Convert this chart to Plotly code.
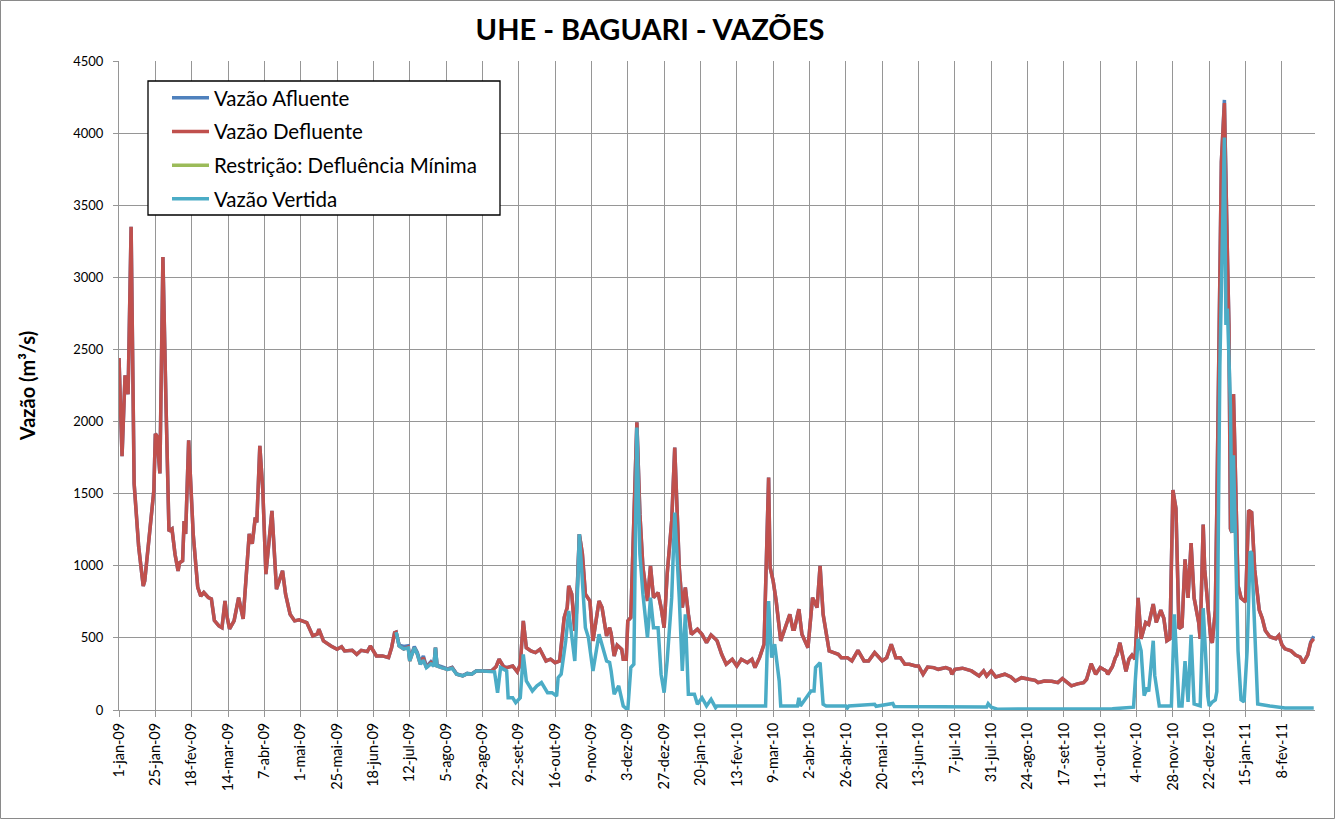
import datetime as dt
import plotly.graph_objects as go

# ---------------- data ----------------
inicio = "2009-01-01"

# days after 1-jan-09 for Vazão Afluente / Vazão Defluente
dias_q = [0, 2, 4, 6, 8, 10, 13, 16, 17, 21, 23, 24, 25, 27, 29, 31, 33, 35, 37, 39,
          40, 42, 43, 44, 46, 49, 52, 54, 56, 59, 61, 63, 65, 66, 68, 70, 71, 73, 76, 79,
          82, 86, 88, 90, 91, 93, 95, 97, 101, 104, 108, 110, 113, 116, 119, 124, 128, 131, 132, 135,
          140, 144, 147, 149, 154, 157, 160, 164, 166, 170, 174, 178, 180, 182, 183, 185, 188, 191, 192, 195,
          197, 199, 201, 203, 206, 208, 209, 210, 213, 217, 220, 223, 227, 230, 233, 236, 240, 246, 249, 251,
          254, 256, 260, 263, 265, 267, 269, 272, 275, 278, 282, 285, 288, 291, 294, 296, 297, 299, 301, 302,
          304, 306, 308, 311, 313, 316, 317, 319, 322, 324, 325, 327, 329, 332, 333, 335, 336, 338, 339, 342,
          344, 346, 349, 351, 353, 356, 358, 360, 362, 365, 367, 370, 372, 374, 376, 378, 382, 385, 388, 391,
          394, 395, 398, 401, 405, 408, 411, 415, 418, 420, 423, 426, 429, 430, 432, 434, 437, 440, 443, 445,
          446, 449, 451, 455, 458, 461, 463, 465, 467, 469, 472, 475, 477, 481, 484, 488, 492, 495, 499, 504,
          507, 510, 513, 516, 519, 522, 526, 528, 531, 534, 538, 541, 546, 549, 550, 552, 557, 560, 563, 568,
          571, 573, 576, 579, 582, 585, 589, 592, 593, 596, 601, 605, 607, 611, 616, 620, 623, 625, 629, 633,
          637, 639, 642, 645, 648, 650, 652, 653, 656, 658, 659, 661, 662, 665, 667, 669, 671, 673, 675, 678,
          680, 683, 685, 688, 690, 692, 694, 696, 698, 700, 702, 704, 706, 708, 710, 713, 714, 716, 717, 720,
          721, 722, 724, 725, 726, 728, 730, 731, 732, 733, 734, 735, 736, 737, 739, 741, 744, 746, 748, 750,
          753, 755, 757, 760, 764, 766, 768, 770, 774, 777, 780, 782, 785, 787, 789]

vazao_defluente = [2440, 1760, 2320, 2190, 3350, 1570, 1130, 860, 895, 1310, 1520, 1915, 1900, 1640, 3140, 2140, 1240, 1255, 1080, 965,
                   1020, 1035, 1310, 1220, 1870, 1220, 850, 790, 815, 780, 770, 620, 597, 583, 571, 756, 666, 562, 618, 779,
                   632, 1221, 1152, 1335, 1300, 1832, 1520, 942, 1381, 838, 965, 803, 664, 618, 625, 606, 514, 527, 560, 479,
                   444, 421, 439, 409, 414, 386, 414, 405, 444, 375, 375, 363, 432, 536, 540, 444, 423, 437, 340, 432,
                   389, 317, 363, 294, 328, 305, 432, 305, 294, 282, 294, 248, 236, 252, 248, 271, 271, 271, 300, 352,
                   300, 294, 305, 265, 317, 618, 432, 409, 398, 421, 340, 352, 328, 340, 641, 710, 860, 803, 548, 664,
                   1219, 1083, 803, 756, 479, 664, 756, 710, 514, 571, 530, 375, 450, 421, 352, 352, 618, 641, 988, 1994,
                   1358, 988, 756, 999, 779, 814, 710, 571, 942, 1311, 1820, 988, 710, 849, 664, 525, 560, 525, 467, 520,
                   491, 479, 386, 317, 352, 305, 352, 328, 352, 294, 363, 456, 1612, 988, 895, 756, 479, 571, 664, 560,
                   560, 699, 525, 432, 779, 710, 999, 664, 525, 409, 398, 386, 363, 363, 340, 414, 340, 340, 398, 340,
                   363, 456, 363, 363, 317, 317, 305, 305, 248, 298, 294, 282, 294, 282, 248, 282, 290, 282, 271, 236,
                   271, 236, 271, 229, 236, 248, 229, 201, 206, 224, 213, 206, 190, 201, 199, 190, 218, 201, 167, 181,
                   190, 213, 321, 248, 294, 282, 271, 248, 300, 363, 381, 466, 410, 268, 353, 381, 353, 777, 494, 607,
                   593, 734, 607, 692, 636, 480, 494, 1525, 1398, 565, 579, 1045, 777, 1158, 777, 607, 494, 1285, 975, 579,
                   494, 466, 692, 1400, 2387, 3800, 4209, 3517, 3150, 2670, 1257, 1229, 2190, 1766, 862, 777, 749, 1384, 1370, 975,
                   692, 636, 551, 508, 494, 517, 452, 424, 410, 381, 367, 325, 381, 466, 494]

vazao_afluente = [2440, 1760, 2320, 2190, 3350, 1570, 1130, 860, 895, 1310, 1520, 1915, 1900, 1640, 3140, 2140, 1240, 1255, 1080, 965,
                  1020, 1035, 1310, 1220, 1870, 1220, 850, 790, 815, 780, 770, 620, 597, 583, 571, 756, 666, 562, 618, 779,
                  632, 1221, 1152, 1335, 1300, 1832, 1520, 942, 1381, 838, 965, 803, 664, 618, 625, 606, 514, 527, 560, 479,
                  444, 421, 439, 409, 414, 386, 414, 405, 444, 375, 375, 363, 432, 536, 540, 450, 440, 445, 350, 440,
                  400, 330, 375, 300, 335, 310, 432, 310, 300, 285, 296, 250, 238, 254, 250, 272, 272, 272, 300, 352,
                  300, 294, 305, 265, 317, 618, 432, 409, 398, 421, 340, 352, 328, 340, 641, 710, 860, 803, 548, 664,
                  1219, 1083, 803, 756, 479, 664, 756, 710, 514, 571, 530, 375, 450, 421, 352, 352, 618, 641, 988, 1994,
                  1358, 988, 756, 999, 779, 814, 710, 571, 942, 1311, 1820, 988, 710, 849, 664, 525, 560, 525, 467, 520,
                  491, 479, 386, 317, 352, 305, 352, 328, 352, 294, 363, 456, 1612, 988, 895, 756, 479, 571, 664, 560,
                  560, 699, 525, 432, 779, 710, 999, 664, 525, 409, 398, 386, 363, 363, 340, 414, 340, 340, 398, 340,
                  363, 456, 363, 363, 317, 317, 305, 305, 248, 298, 294, 282, 294, 282, 248, 282, 290, 282, 271, 236,
                  271, 236, 271, 229, 236, 248, 229, 201, 206, 224, 213, 206, 190, 201, 199, 190, 218, 201, 167, 181,
                  190, 213, 321, 248, 294, 282, 271, 248, 300, 363, 381, 466, 410, 268, 353, 381, 353, 777, 494, 607,
                  593, 734, 607, 692, 636, 480, 494, 1525, 1398, 565, 579, 1045, 777, 1158, 777, 607, 494, 1285, 975, 579,
                  494, 466, 692, 1400, 2387, 3800, 4230, 3517, 3150, 2670, 1257, 1229, 2190, 1766, 862, 777, 749, 1384, 1370, 975,
                  692, 636, 551, 508, 494, 517, 452, 424, 410, 381, 367, 325, 381, 470, 512]

# the minimum-outflow restriction has no visible values in the chart (legend entry only)
dias_restricao = [0, 789]
restricao_defluencia_minima = [None, None]

# days after 1-jan-09 for Vazão Vertida
dias_v = [183, 185, 188, 191, 192, 195, 197, 199, 201, 203, 206, 208, 209, 210, 213, 217, 220, 223, 227, 230,
          233, 236, 240, 246, 248, 250, 252, 256, 257, 260, 262, 265, 267, 269, 273, 276, 279, 283, 286, 289,
          290, 292, 295, 297, 299, 301, 302, 304, 306, 308, 310, 313, 317, 319, 322, 324, 325, 327, 329, 330,
          333, 336, 338, 340, 342, 344, 346, 349, 351, 353, 356, 358, 360, 362, 365, 367, 370, 372, 374, 376,
          380, 382, 385, 388, 391, 392, 394, 395, 410, 427, 429, 431, 433, 436, 437, 448, 449, 450, 457, 459,
          460, 463, 465, 467, 480, 481, 482, 499, 500, 511, 512, 540, 573, 574, 576, 580, 620, 656, 670, 673,
          675, 677, 679, 680, 683, 684, 687, 695, 697, 700, 702, 704, 706, 708, 710, 714, 716, 719, 720, 722,
          724, 725, 727, 730, 731, 732, 734, 735, 736, 739, 741, 743, 745, 747, 748, 750, 752, 760, 770, 789]

vazao_vertida = [540, 444, 423, 430, 340, 432, 389, 317, 345, 294, 320, 305, 432, 305, 294, 282, 290, 248, 236, 252,
                 248, 271, 271, 271, 265, 120, 294, 271, 85, 85, 51, 85, 386, 201, 132, 167, 190, 120, 120, 97,
                 224, 248, 479, 687, 525, 340, 571, 1219, 895, 571, 502, 271, 525, 456, 340, 330, 271, 109, 155, 167,
                 28, 0, 294, 317, 1959, 1080, 803, 502, 779, 571, 571, 248, 120, 340, 779, 1369, 779, 271, 664, 109,
                 109, 40, 85, 28, 74, 51, 16, 28, 26, 28, 756, 363, 456, 201, 28, 28, 85, 28, 132, 132,
                 294, 328, 40, 28, 28, 14, 28, 40, 26, 45, 25, 24, 21, 44, 20, 6, 5, 8, 20, 494,
                 410, 99, 155, 127, 480, 240, 28, 28, 664, 28, 28, 339, 56, 522, 42, 28, 706, 99, 28, 56,
                 70, 127, 2387, 3969, 2670, 2783, 2105, 1229, 1766, 410, 71, 56, 410, 1100, 1088, 607, 42, 28, 14, 14]

tick_labels = ["1-jan-09", "25-jan-09", "18-fev-09", "14-mar-09", "7-abr-09", "1-mai-09", "25-mai-09",
               "18-jun-09", "12-jul-09", "5-ago-09", "29-ago-09", "22-set-09", "16-out-09", "9-nov-09",
               "3-dez-09", "27-dez-09", "20-jan-10", "13-fev-10", "9-mar-10", "2-abr-10", "26-abr-10",
               "20-mai-10", "13-jun-10", "7-jul-10", "31-jul-10", "24-ago-10", "17-set-10", "11-out-10",
               "4-nov-10", "28-nov-10", "22-dez-10", "15-jan-11", "8-fev-11"]

y_ticks = [0, 500, 1000, 1500, 2000, 2500, 3000, 3500, 4000, 4500]

# ---------------- helpers ----------------
meses = {"jan": 1, "fev": 2, "mar": 3, "abr": 4, "mai": 5, "jun": 6,
         "jul": 7, "ago": 8, "set": 9, "out": 10, "nov": 11, "dez": 12}
base = dt.date.fromisoformat(inicio)


def to_dates(dias):
    return [base + dt.timedelta(days=d) for d in dias]


def parse_label(s):
    d, m, a = s.split("-")
    return dt.date(2000 + int(a), meses[m], int(d))


tick_vals = [parse_label(s) for s in tick_labels]

FONT = "Lato, Carlito, Calibri, 'Open Sans', sans-serif"
C_AFL = "#4F81BD"
C_DEF = "#C0504D"
C_RES = "#9BBB59"
C_VER = "#4BACC6"
GRID = "#969696"

fig = go.Figure()
fig.add_trace(go.Scatter(x=to_dates(dias_q), y=vazao_afluente, mode="lines", name="Vazão Afluente",
                         line=dict(color=C_AFL, width=3.5), legendgroup="a"))
fig.add_trace(go.Scatter(x=to_dates(dias_q), y=vazao_defluente, mode="lines", name="Vazão Defluente",
                         line=dict(color=C_DEF, width=3.5), legendgroup="b"))
fig.add_trace(go.Scatter(x=to_dates(dias_restricao), y=restricao_defluencia_minima, mode="lines",
                         name="Restrição: Defluência Mínima", line=dict(color=C_RES, width=3.5),
                         legendgroup="c", showlegend=True))
fig.add_trace(go.Scatter(x=to_dates(dias_v), y=vazao_vertida, mode="lines", name="Vazão Vertida",
                         line=dict(color=C_VER, width=3.5), legendgroup="d"))

L, R, T, B = 119, 21, 61, 110
W, H = 1336, 820
pw, ph = W - L - R, H - T - B


def px(xp):
    return (xp - L) / pw


def py(yp):
    return (H - B - yp) / ph


fig.update_layout(
    width=W, height=H,
    margin=dict(l=L, r=R, t=T, b=B, autoexpand=False),
    paper_bgcolor="white", plot_bgcolor="white",
    font=dict(family=FONT, color="black", size=14),
    title=dict(text="UHE - BAGUARI - VAZÕES", x=px(650), xref="paper", xanchor="center",
               y=1 - 30 / H, yanchor="middle", font=dict(size=29, weight="bold", family=FONT)),
    showlegend=True,
    legend=dict(x=px(167), y=py(78), xanchor="left", yanchor="top", bgcolor="rgba(0,0,0,0)",
                borderwidth=0, font=dict(size=20.5, family=FONT), tracegroupgap=4,
                traceorder="grouped", itemwidth=37),
    xaxis=dict(type="date", range=[dt.datetime(2009, 1, 1), dt.datetime(2011, 3, 1, 20)],
               tickmode="array", tickvals=tick_vals, ticktext=tick_labels, tickangle=-90,
               tickfont=dict(size=14.5, family=FONT), showgrid=True, gridcolor=GRID, gridwidth=1,
               ticks="outside", ticklen=6, tickcolor=GRID, showline=True, linecolor=GRID, linewidth=1,
               zeroline=False, fixedrange=True),
    yaxis=dict(range=[0, 4500], tickmode="array", tickvals=y_ticks, tickfont=dict(size=13, family=FONT),
               showgrid=True, gridcolor=GRID, gridwidth=1, ticks="outside", ticklen=5, tickcolor=GRID,
               ticklabelstandoff=7,
               showline=True, linecolor=GRID, linewidth=1, zeroline=False,
               title=dict(text="Vazão (m³/s)", font=dict(size=20, weight="bold", family=FONT), standoff=32)),
    shapes=[
        dict(type="rect", xref="paper", yref="paper", x0=px(148), x1=px(500), y0=py(215), y1=py(81),
             line=dict(color="black", width=1.3), fillcolor="white", layer="above"),
        dict(type="rect", xref="paper", yref="paper", x0=px(0.5), x1=px(1334.5), y0=py(818.5), y1=py(0.5),
             line=dict(color="#8a8a8a", width=1), fillcolor="rgba(0,0,0,0)", layer="above"),
    ],
)

fig.write_html("out.html", config={"displayModeBar": False, "staticPlot": True},
               post_script="document.body.style.margin='0';")
